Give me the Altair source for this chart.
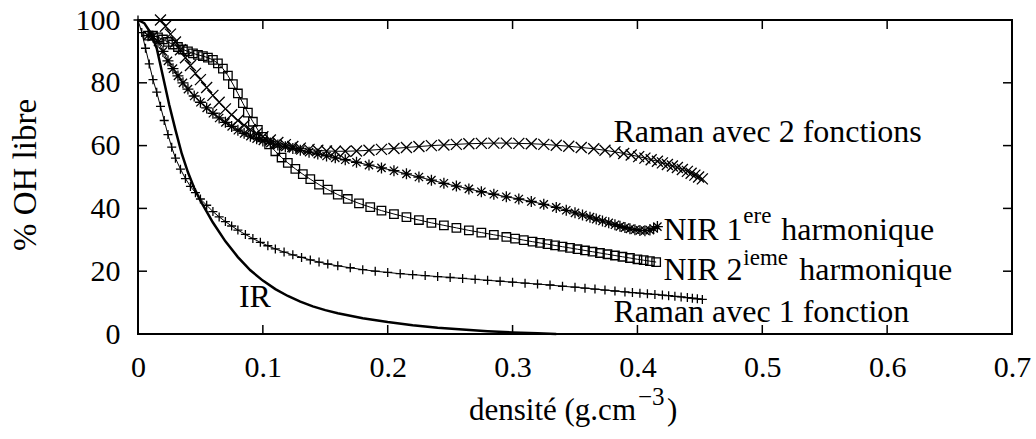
import altair as alt
import pandas as pd

# ---------------- data ----------------
x_ticks = [0, 0.1, 0.2, 0.3, 0.4, 0.5, 0.6, 0.7]
y_ticks = [0, 20, 40, 60, 80, 100]

ir_x = [0, 0.005, 0.01, 0.015, 0.02, 0.025, 0.03, 0.035, 0.04, 0.045, 0.05, 0.06, 0.07,
        0.08, 0.09, 0.1, 0.11, 0.12, 0.13, 0.14, 0.15, 0.16, 0.18, 0.2, 0.22, 0.24, 0.26,
        0.28, 0.3, 0.32, 0.335]
ir_y = [100, 99, 96, 91, 82, 73, 65, 57.5, 51.5, 46.5, 42.5, 35.5, 29.5,
        24.5, 20.3, 17, 14.3, 12.1, 10.3, 8.8, 7.6, 6.6, 5, 3.8, 2.8, 2, 1.4,
        0.9, 0.5, 0.2, 0]

raman1_x = [0, 0.003, 0.006, 0.009, 0.012, 0.015, 0.018, 0.021, 0.024, 0.027, 0.030, 0.034,
            0.038, 0.042, 0.046, 0.050, 0.055, 0.060, 0.065, 0.070, 0.075, 0.080, 0.086,
            0.092, 0.098, 0.104, 0.110, 0.117, 0.124, 0.131, 0.138, 0.145, 0.152, 0.160,
            0.170, 0.180, 0.190, 0.200, 0.210, 0.220, 0.230, 0.240, 0.250, 0.260, 0.270,
            0.280, 0.290, 0.300, 0.310, 0.320, 0.330, 0.340, 0.350, 0.358, 0.366, 0.374,
            0.382, 0.390, 0.396, 0.402, 0.408, 0.414, 0.420, 0.425, 0.430, 0.435, 0.440,
            0.444, 0.448, 0.452]
raman1_y = [100, 96, 91, 86, 81, 77, 72.5, 68, 63.5, 59.5, 56, 52.5,
            49.5, 47, 45, 43, 41, 39, 37.3, 35.8, 34.4, 33.1, 31.7,
            30.4, 29.2, 28.1, 27.1, 26.1, 25.2, 24.4, 23.6, 22.9, 22.3, 21.7,
            21.1, 20.5, 20.0, 19.6, 19.2, 18.9, 18.6, 18.3, 18.0, 17.7, 17.4,
            17.1, 16.8, 16.5, 16.2, 15.9, 15.6, 15.2, 14.9, 14.6, 14.3, 14.0,
            13.7, 13.4, 13.2, 13.0, 12.8, 12.6, 12.4, 12.2, 12.0, 11.8, 11.6,
            11.4, 11.2, 11.0]

raman2_x = [0.018, 0.022, 0.026, 0.030, 0.034, 0.038, 0.042, 0.046, 0.050, 0.055, 0.060,
            0.065, 0.070, 0.075, 0.080, 0.085, 0.090, 0.095, 0.100, 0.106, 0.112, 0.118,
            0.124, 0.130, 0.137, 0.144, 0.151, 0.158, 0.166, 0.175, 0.185, 0.195, 0.205,
            0.215, 0.225, 0.235, 0.245, 0.255, 0.265, 0.275, 0.285, 0.295, 0.305, 0.315,
            0.325, 0.335, 0.345, 0.355, 0.365, 0.374, 0.382, 0.389, 0.395, 0.401, 0.406,
            0.411, 0.416, 0.420, 0.424, 0.428, 0.432, 0.436, 0.440, 0.443, 0.446, 0.449,
            0.452]
raman2_y = [100, 98, 95.5, 93, 90.5, 88, 85.5, 83, 81, 78.5, 76,
            73.8, 71.7, 69.8, 68, 66.5, 65.1, 63.9, 62.8, 61.8, 61, 60.3,
            59.7, 59.2, 58.8, 58.5, 58.3, 58.2, 58.2, 58.3, 58.5, 58.8, 59.1,
            59.4, 59.7, 60, 60.2, 60.4, 60.6, 60.7, 60.8, 60.8, 60.7, 60.6,
            60.4, 60.1, 59.8, 59.4, 59.0, 58.5, 58.0, 57.5, 57.0, 56.5, 56.0,
            55.5, 55.0, 54.5, 54.0, 53.5, 53.0, 52.4, 51.8, 51.2, 50.6, 50.0,
            49.4]

nir1_x = [0.008, 0.012, 0.016, 0.020, 0.024, 0.028, 0.032, 0.036, 0.040, 0.045, 0.050,
          0.055, 0.060, 0.065, 0.070, 0.075, 0.080, 0.085, 0.090, 0.095, 0.100, 0.106,
          0.112, 0.118, 0.124, 0.130, 0.137, 0.144, 0.151, 0.158, 0.166, 0.175, 0.185,
          0.195, 0.205, 0.215, 0.225, 0.235, 0.245, 0.255, 0.265, 0.275, 0.285, 0.295,
          0.305, 0.315, 0.325, 0.335, 0.343, 0.350, 0.356, 0.362, 0.367, 0.372, 0.377,
          0.382, 0.386, 0.390, 0.394, 0.398, 0.402, 0.406, 0.410, 0.413, 0.416]
nir1_y = [95, 94.8, 93, 90, 87, 84.5, 82.2, 80, 78, 75.8, 73.8,
          72, 70.3, 68.8, 67.4, 66.1, 64.9, 63.9, 63, 62.2, 61.5, 60.8,
          60.2, 59.6, 59.1, 58.5, 57.9, 57.3, 56.7, 56.1, 55.5, 54.7, 53.8,
          52.9, 52, 51, 50, 49, 48, 47.1, 46.2, 45.3, 44.5, 43.7,
          43, 42.2, 41.3, 40.3, 39.4, 38.6, 37.9, 37.2, 36.6, 36, 35.4,
          34.8, 34.3, 33.9, 33.5, 33.2, 33.0, 32.9, 33.1, 33.6, 34.2]

nir2_x = [0.008, 0.012, 0.016, 0.020, 0.024, 0.028, 0.032, 0.036, 0.040, 0.044, 0.048,
          0.052, 0.056, 0.060, 0.064, 0.068, 0.072, 0.076, 0.080, 0.084, 0.088, 0.092,
          0.096, 0.100, 0.105, 0.110, 0.115, 0.120, 0.126, 0.132, 0.138, 0.145, 0.152,
          0.160, 0.168, 0.177, 0.186, 0.195, 0.205, 0.215, 0.225, 0.235, 0.245, 0.255,
          0.265, 0.275, 0.285, 0.295, 0.302, 0.309, 0.316, 0.322, 0.328, 0.334, 0.340,
          0.346, 0.352, 0.358, 0.364, 0.370, 0.376, 0.382, 0.388, 0.394, 0.400, 0.405,
          0.410, 0.415]
nir2_y = [95, 95, 94.5, 93.8, 93, 92.2, 91.4, 90.6, 90, 89.4, 88.9,
          88.5, 88, 87.3, 86.2, 84.5, 82.3, 79.6, 76.6, 73.5, 70.5, 67.6,
          65, 62.8, 60.4, 58.2, 56.2, 54.5, 52.6, 50.9, 49.3, 47.6, 46,
          44.4, 43, 41.6, 40.4, 39.3, 38.2, 37.2, 36.3, 35.4, 34.6, 33.8,
          33, 32.3, 31.6, 30.9, 30.4, 29.9, 29.4, 29, 28.6, 28.2, 27.8,
          27.4, 27, 26.6, 26.2, 25.8, 25.4, 25, 24.6, 24.2, 23.8, 23.5,
          23.2, 22.9]

label_text = ["Raman avec 2 fonctions", "NIR 1", "harmonique", "NIR 2", "harmonique",
              "Raman avec 1 fonction", "IR"]
label_x = [0.3808, 0.4208, 0.5152, 0.4208, 0.5296, 0.3808, 0.0808]
label_y = [61.1, 29.9, 29.9, 17.2, 17.2, 3.8, 8.6]

sup_text = ["ere", "ieme"]
sup_x = [0.4848, 0.4848]
sup_y = [35.4, 22.0]

# ---------------- chart ----------------
FONT = "Liberation Serif"
W, H = 874, 314
xs = alt.Scale(domain=[0, 0.7], nice=False, zero=False)
ys = alt.Scale(domain=[0, 100], nice=False, zero=False)

X_AX = alt.Axis(values=x_ticks, format="~g", title=None, labelFont=FONT, labelFontSize=30,
                labelColor="black", tickSize=0, domain=False, grid=False,
                labelPadding=18, labelFlush=False)
Y_AX = alt.Axis(values=y_ticks, format="d", title=None, labelFont=FONT, labelFontSize=30,
                labelColor="black", tickSize=0, domain=False, grid=False,
                labelPadding=18, labelFlush=False)

PLUS = "M-1,0L1,0M0,-1L0,1"
CROSS = "M-1,-1L1,1M-1,1L1,-1"
STAR = "M-1,0L1,0M0,-1L0,1M-0.75,-0.75L0.75,0.75M-0.75,0.75L0.75,-0.75"


def frame(x, y):
    return pd.DataFrame({"x": x, "y": y})


def enc(ch, xf="x", yf="y"):
    return ch.encode(x=alt.X(f"{xf}:Q", scale=xs, axis=X_AX),
                     y=alt.Y(f"{yf}:Q", scale=ys, axis=Y_AX))


def line(d, w=1.0):
    return enc(alt.Chart(d).mark_line(color="black", strokeWidth=w))


def pts(d, shape, size, sw=1.3):
    return enc(alt.Chart(d).mark_point(shape=shape, filled=False, color="black",
                                       size=size, strokeWidth=sw, opacity=1))


ir = frame(ir_x, ir_y)
r1 = frame(raman1_x, raman1_y)
r2 = frame(raman2_x, raman2_y)
n1 = frame(nir1_x, nir1_y)
n2 = frame(nir2_x, nir2_y)

xt = pd.DataFrame({"t": x_ticks[1:-1]})
yt = pd.DataFrame({"t": y_ticks[1:-1]})
tick_bottom = alt.Chart(xt).mark_rule(color="black", strokeWidth=1.5).encode(
    x=alt.X("t:Q", scale=xs, axis=X_AX), y=alt.value(H), y2=alt.value(H - 9))
tick_top = alt.Chart(xt).mark_rule(color="black", strokeWidth=1.5).encode(
    x=alt.X("t:Q", scale=xs, axis=X_AX), y=alt.value(0), y2=alt.value(9))
tick_left = alt.Chart(yt).mark_rule(color="black", strokeWidth=1.5).encode(
    y=alt.Y("t:Q", scale=ys, axis=Y_AX), x=alt.value(0), x2=alt.value(9))
tick_right = alt.Chart(yt).mark_rule(color="black", strokeWidth=1.5).encode(
    y=alt.Y("t:Q", scale=ys, axis=Y_AX), x=alt.value(W), x2=alt.value(W - 9))

labels = enc(alt.Chart(pd.DataFrame({"x": label_x, "y": label_y, "t": label_text})).mark_text(
    font=FONT, fontSize=32, color="black", align="left", baseline="alphabetic")).encode(text="t:N")
sups = enc(alt.Chart(pd.DataFrame({"x": sup_x, "y": sup_y, "t": sup_text})).mark_text(
    font=FONT, fontSize=23, color="black", align="left", baseline="alphabetic")).encode(text="t:N")

# axis titles
ytitle = alt.Chart(pd.DataFrame({"t": ["% OH libre"]})).mark_text(
    font=FONT, fontSize=33, color="black", angle=270, align="center", baseline="middle").encode(
    x=alt.value(-112), y=alt.value(155), text="t:N")
xtitle_main = alt.Chart(pd.DataFrame({"t": ["densité (g.cm"]})).mark_text(
    font=FONT, fontSize=31, color="black", align="right", baseline="alphabetic").encode(
    x=alt.value(498), y=alt.value(100 + H - 14), text="t:N")
xtitle_sup = alt.Chart(pd.DataFrame({"t": ["−3"]})).mark_text(
    font=FONT, fontSize=25, color="black", align="left", baseline="alphabetic").encode(
    x=alt.value(500), y=alt.value(100 + H - 29), text="t:N")
xtitle_end = alt.Chart(pd.DataFrame({"t": [")"]})).mark_text(
    font=FONT, fontSize=31, color="black", align="left", baseline="alphabetic").encode(
    x=alt.value(529), y=alt.value(100 + H - 14), text="t:N")

chart = alt.layer(
    line(ir, 2.5),
    line(r1), pts(r1, PLUS, 81),
    line(r2), pts(r2, CROSS, 121),
    line(n1), pts(n1, STAR, 121),
    line(n2), pts(n2, "square", 72),
    tick_bottom, tick_top, tick_left, tick_right,
    labels, sups, ytitle, xtitle_main, xtitle_sup, xtitle_end,
).properties(
    width=W, height=H,
    padding={"left": 138, "top": 20, "right": 24, "bottom": 105},
    autosize=alt.AutoSizeParams(type="none"),
    background="white",
).configure_view(stroke="black", strokeWidth=2)

chart.save("out.html", embed_options={"renderer": "svg", "actions": False})
